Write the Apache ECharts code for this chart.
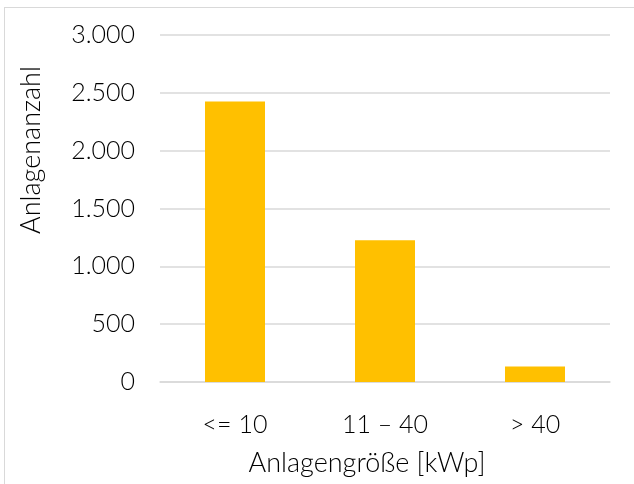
<!DOCTYPE html>
<html>
<head>
<meta charset="utf-8">
<script src="https://cdn.jsdelivr.net/npm/echarts@6/dist/echarts.min.js"></script>
<style>
html,body{margin:0;padding:0;background:#fff;overflow:hidden;}
.frame{position:absolute;left:4px;top:7px;width:640px;height:490px;border:1px solid #d9d9d9;box-sizing:border-box;}
#chart{position:absolute;left:0;top:0;width:634px;height:484px;}
</style>
</head>
<body>
<div class="frame"></div>
<div id="chart"></div>
<script>
// Daten
const categories=["<= 10","11 – 40","> 40"];
const counts=[2425,1225,135];
const yTicks=[0,500,1000,1500,2000,2500,3000];

const fontFam="Lato, 'Open Sans', sans-serif";
const txt={color:"#000",fontSize:25,fontFamily:fontFam,fontWeight:300};
const titleTxt=Object.assign({},txt,{fontSize:27});
const chart=echarts.init(document.getElementById("chart"),null,{renderer:"canvas"});

const option={
    animation:false,
    grid:{left:160,right:24,top:35,bottom:102},
    xAxis:{
        type:"category",
        data:categories,
        axisLine:{lineStyle:{color:"#d9d9d9",width:1.5}},
        axisTick:{show:false},
        axisLabel:Object.assign({margin:30},txt),
        name:"Anlagengröße [kWp]",
        nameLocation:"middle",
        nameGap:68,
        nameTextStyle:Object.assign({padding:[0,36,0,0]},titleTxt)
    },
    yAxis:{
        type:"value",
        min:yTicks[0],
        max:yTicks[yTicks.length-1],
        interval:500,
        axisLine:{show:false},
        axisTick:{show:false},
        splitLine:{lineStyle:{color:"#d9d9d9",width:1.5}},
        axisLabel:Object.assign({
            margin:25,
            formatter:v=>v.toString().replace(/\B(?=(\d{3})+(?!\d))/g,".")
        },txt),
        name:"Anlagenanzahl",
        nameLocation:"middle",
        nameRotate:90,
        nameGap:115,
        nameTextStyle:Object.assign({padding:[0,0,0,117]},titleTxt)
    },
    series:[{
        type:"bar",
        data:counts,
        barWidth:"40%",
        itemStyle:{color:"#ffc000"}
    }]
};
chart.setOption(option);
</script>
</body>
</html>
